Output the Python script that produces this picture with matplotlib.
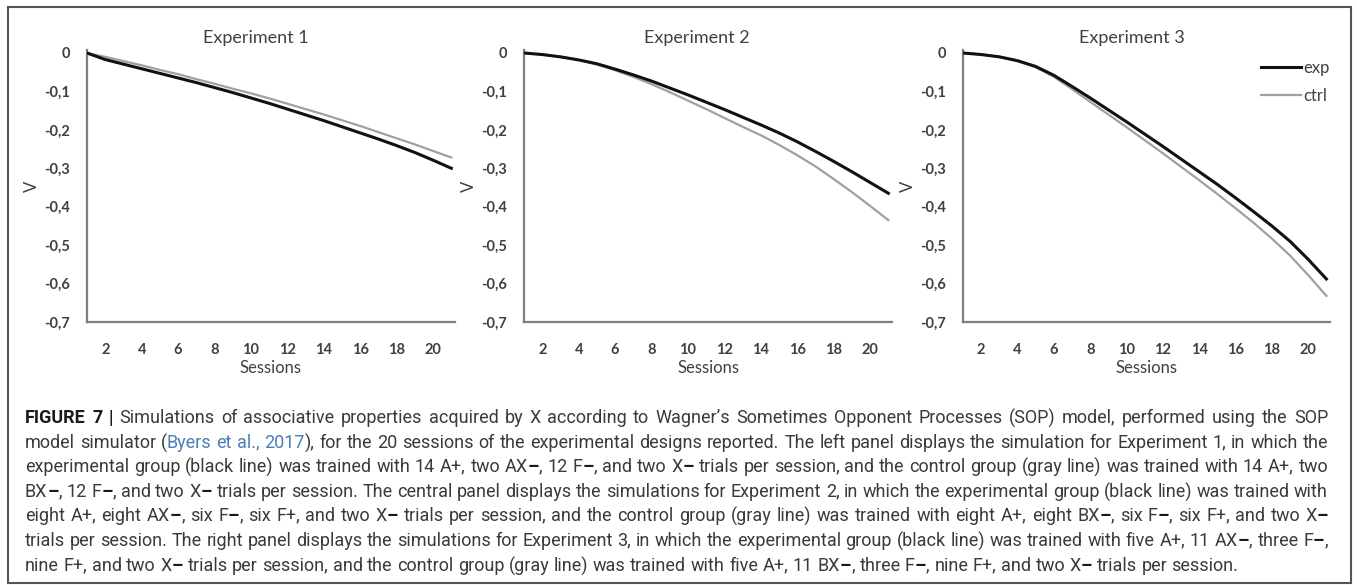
import matplotlib
matplotlib.use("Agg")
import matplotlib.pyplot as plt
import matplotlib.patches as patches
from matplotlib import font_manager as fm
from matplotlib.backends.backend_agg import get_hinting_flag

W, H = 1357, 585

sessions = list(range(1, 22))

exp1_exp = [0, -0.017, -0.029, -0.041, -0.053, -0.065, -0.077, -0.090, -0.103, -0.117, -0.131,
            -0.146, -0.161, -0.176, -0.192, -0.208, -0.224, -0.241, -0.259, -0.279, -0.300]
exp1_ctrl = [0, -0.010, -0.021, -0.032, -0.044, -0.055, -0.068, -0.080, -0.093, -0.105, -0.118,
             -0.132, -0.146, -0.160, -0.175, -0.190, -0.206, -0.222, -0.238, -0.255, -0.272]

exp2_exp = [0, -0.004, -0.010, -0.018, -0.028, -0.042, -0.057, -0.073, -0.091, -0.109, -0.128,
            -0.147, -0.167, -0.187, -0.208, -0.231, -0.256, -0.282, -0.309, -0.337, -0.365]
exp2_ctrl = [0, -0.004, -0.010, -0.018, -0.030, -0.045, -0.062, -0.081, -0.102, -0.124, -0.146,
             -0.169, -0.192, -0.214, -0.239, -0.266, -0.295, -0.328, -0.362, -0.398, -0.435]

exp3_exp = [0, -0.004, -0.010, -0.020, -0.035, -0.058, -0.087, -0.117, -0.148, -0.179, -0.211,
            -0.243, -0.276, -0.309, -0.342, -0.377, -0.413, -0.450, -0.490, -0.537, -0.588]
exp3_ctrl = [0, -0.004, -0.010, -0.021, -0.037, -0.062, -0.094, -0.127, -0.160, -0.193, -0.227,
             -0.261, -0.296, -0.331, -0.367, -0.404, -0.442, -0.483, -0.527, -0.578, -0.632]

titles = ["Experiment 1", "Experiment 2", "Experiment 3"]
yticks = [0, -0.1, -0.2, -0.3, -0.4, -0.5, -0.6, -0.7]
ytick_labels = ["0", "-0,1", "-0,2", "-0,3", "-0,4", "-0,5", "-0,6", "-0,7"]
xticks = [2, 4, 6, 8, 10, 12, 14, 16, 18, 20]
series_labels = ["exp", "ctrl"]

# ** = bold, <...> = link colour, en dashes are drawn bold
caption = [
    "**FIGURE 7 |** Simulations of associative properties acquired by X according to Wagner\u2019s Sometimes Opponent Processes (SOP) model, performed using the SOP",
    "model simulator (<Byers et al., 2017>), for the 20 sessions of the experimental designs reported. The left panel displays the simulation for Experiment 1, in which the",
    "experimental group (black line) was trained with 14 A+, two AX\u2013, 12 F\u2013, and two X\u2013 trials per session, and the control group (gray line) was trained with 14 A+, two",
    "BX\u2013, 12 F\u2013, and two X\u2013 trials per session. The central panel displays the simulations for Experiment 2, in which the experimental group (black line) was trained with",
    "eight A+, eight AX\u2013, six F\u2013, six F+, and two X\u2013 trials per session, and the control group (gray line) was trained with eight A+, eight BX\u2013, six F\u2013, six F+, and two X\u2013",
    "trials per session. The right panel displays the simulations for Experiment 3, in which the experimental group (black line) was trained with five A+, 11 AX\u2013, three F\u2013,",
    "nine F+, and two X\u2013 trials per session, and the control group (gray line) was trained with five A+, 11 BX\u2013, three F\u2013, nine F+, and two X\u2013 trials per session.",
]

installed = {f.name for f in fm.fontManager.ttflist}
cap_font = "Liberation Sans Narrow" if "Liberation Sans Narrow" in installed else "Roboto"
cap_size = 14 if cap_font == "Liberation Sans Narrow" else 13

plt.rcParams['font.family'] = ['Lato', 'DejaVu Sans']
axis_color = "#404040"

fig = plt.figure(figsize=(W / 100, H / 100), dpi=100)

lefts = [87, 524, 963]
rights = [455, 892, 1330]
top_px, bottom_px = 50, 322
title_x = [0.46, 0.47, 0.46]

data = [(exp1_exp, exp1_ctrl), (exp2_exp, exp2_ctrl), (exp3_exp, exp3_ctrl)]

for i in range(3):
    ax = fig.add_axes([lefts[i] / W, 1 - bottom_px / H, (rights[i] - lefts[i]) / W, (bottom_px - top_px) / H])
    e, c = data[i]
    ax.plot(sessions, c, color="#a0a0a0", lw=1.6, label=series_labels[1], zorder=2)
    ax.plot(sessions, e, color="#111111", lw=2.2, label=series_labels[0], zorder=3)
    ax.set_xlim(1, 21.2)
    ax.set_ylim(-0.7, 0.0078)
    ax.set_yticks(yticks)
    ax.set_yticklabels(ytick_labels, fontweight="bold", color=axis_color, fontsize=10.5)
    ax.set_xticks(xticks)
    ax.set_xticklabels([str(x) for x in xticks], fontweight="bold", color=axis_color, fontsize=10.5)
    ax.tick_params(axis='y', length=0, pad=12)
    ax.tick_params(axis='x', length=0, pad=15)
    for s in ["top", "right"]:
        ax.spines[s].set_visible(False)
    for s in ["left", "bottom"]:
        ax.spines[s].set_color("#7f7f7f")
        ax.spines[s].set_linewidth(1.6)
    ax.set_title(titles[i], x=title_x[i], fontsize=13, color=axis_color, pad=5)
    ax.set_xlabel("Sessions", fontsize=12, color=axis_color, labelpad=2)
    ax.set_ylabel("V", fontsize=12, color=axis_color, labelpad=3)
    if i == 2:
        h, l = ax.get_legend_handles_labels()
        leg = ax.legend(h[::-1], l[::-1], loc="upper right", bbox_to_anchor=(1.04, 1.02), frameon=False,
                        fontsize=12, handlelength=2.4, handletextpad=0.15, labelspacing=0.75)
        for t in leg.get_texts():
            t.set_color(axis_color)

# outer frame
fig.patches.append(patches.Rectangle((8 / W, 2 / H), (1351 - 8) / W, (578 - 2) / H,
                                     transform=fig.transFigure, fill=False, edgecolor="#555555", lw=1.5))


def parse(line):
    chars = []
    bold = False
    link = False
    i = 0
    while i < len(line):
        if line.startswith("**", i):
            bold = not bold
            i += 2
            continue
        ch = line[i]
        if ch == "<":
            link = True
            i += 1
            continue
        if ch == ">":
            link = False
            i += 1
            continue
        if bold or ch == "\u2013":
            st = "bold"
        elif link:
            st = "link"
        else:
            st = "normal"
        chars.append((ch, st))
        i += 1
    words = []
    word = []
    for ch, st in chars:
        if ch == " ":
            if word:
                words.append(word)
                word = []
            continue
        if word and word[-1][1] == st:
            word[-1] = (word[-1][0] + ch, st)
        else:
            word.append((ch, st))
    if word:
        words.append(word)
    return words


renderer = fig.canvas.get_renderer()
styles = {
    "normal": dict(color="#3a3a3a", fontweight="normal"),
    "bold": dict(color="#1a1a1a", fontweight="bold"),
    "link": dict(color="#4a7fb5", fontweight="normal"),
}
fam = [cap_font, "DejaVu Sans"]


def baseline_error(t, yflip):
    # Agg snaps each text bitmap to whole pixels; work out where the baseline lands
    font = renderer._prepare_font(t.get_fontproperties())
    font.set_text(t.get_text(), 0.0, flags=get_hinting_flag())
    _, h26 = font.get_width_height()
    desc26 = font.get_descent()
    drawn = round(yflip + desc26 / 64.0) - (h26 // 64) + ((h26 - desc26) // 64)
    return drawn - yflip


cap_left, cap_right = 25, 1328
line_y0, line_step = 423, 24.6   # baselines, pixels from top

probe = fig.text(0, 0, "a a", fontsize=cap_size, family=fam)
probe2 = fig.text(0, 0, "aa", fontsize=cap_size, family=fam)
space_w = probe.get_window_extent(renderer).width - probe2.get_window_extent(renderer).width
probe.remove()
probe2.remove()

for n, line in enumerate(caption):
    yflip = round(line_y0 + n * line_step)
    y = (H - yflip) / H
    words = parse(line)
    placed = []
    total = 0
    for word in words:
        runs = []
        ww = 0
        for txt, st in word:
            t = fig.text(0, y, txt, fontsize=cap_size, family=fam, va="baseline", **styles[st])
            w = t.get_window_extent(renderer).width
            err = baseline_error(t, yflip)
            if err:
                t.set_y((H - yflip + err) / H)
            runs.append((t, w))
            ww += w
        placed.append(runs)
        total += ww
    if n < len(caption) - 1:
        gap = (cap_right - cap_left - total) / (len(words) - 1)
    else:
        gap = space_w
    x = cap_left
    for runs in placed:
        for t, w in runs:
            t.set_x(x / W)
            x += w
        x += gap

fig.savefig("out.png", dpi=100)
